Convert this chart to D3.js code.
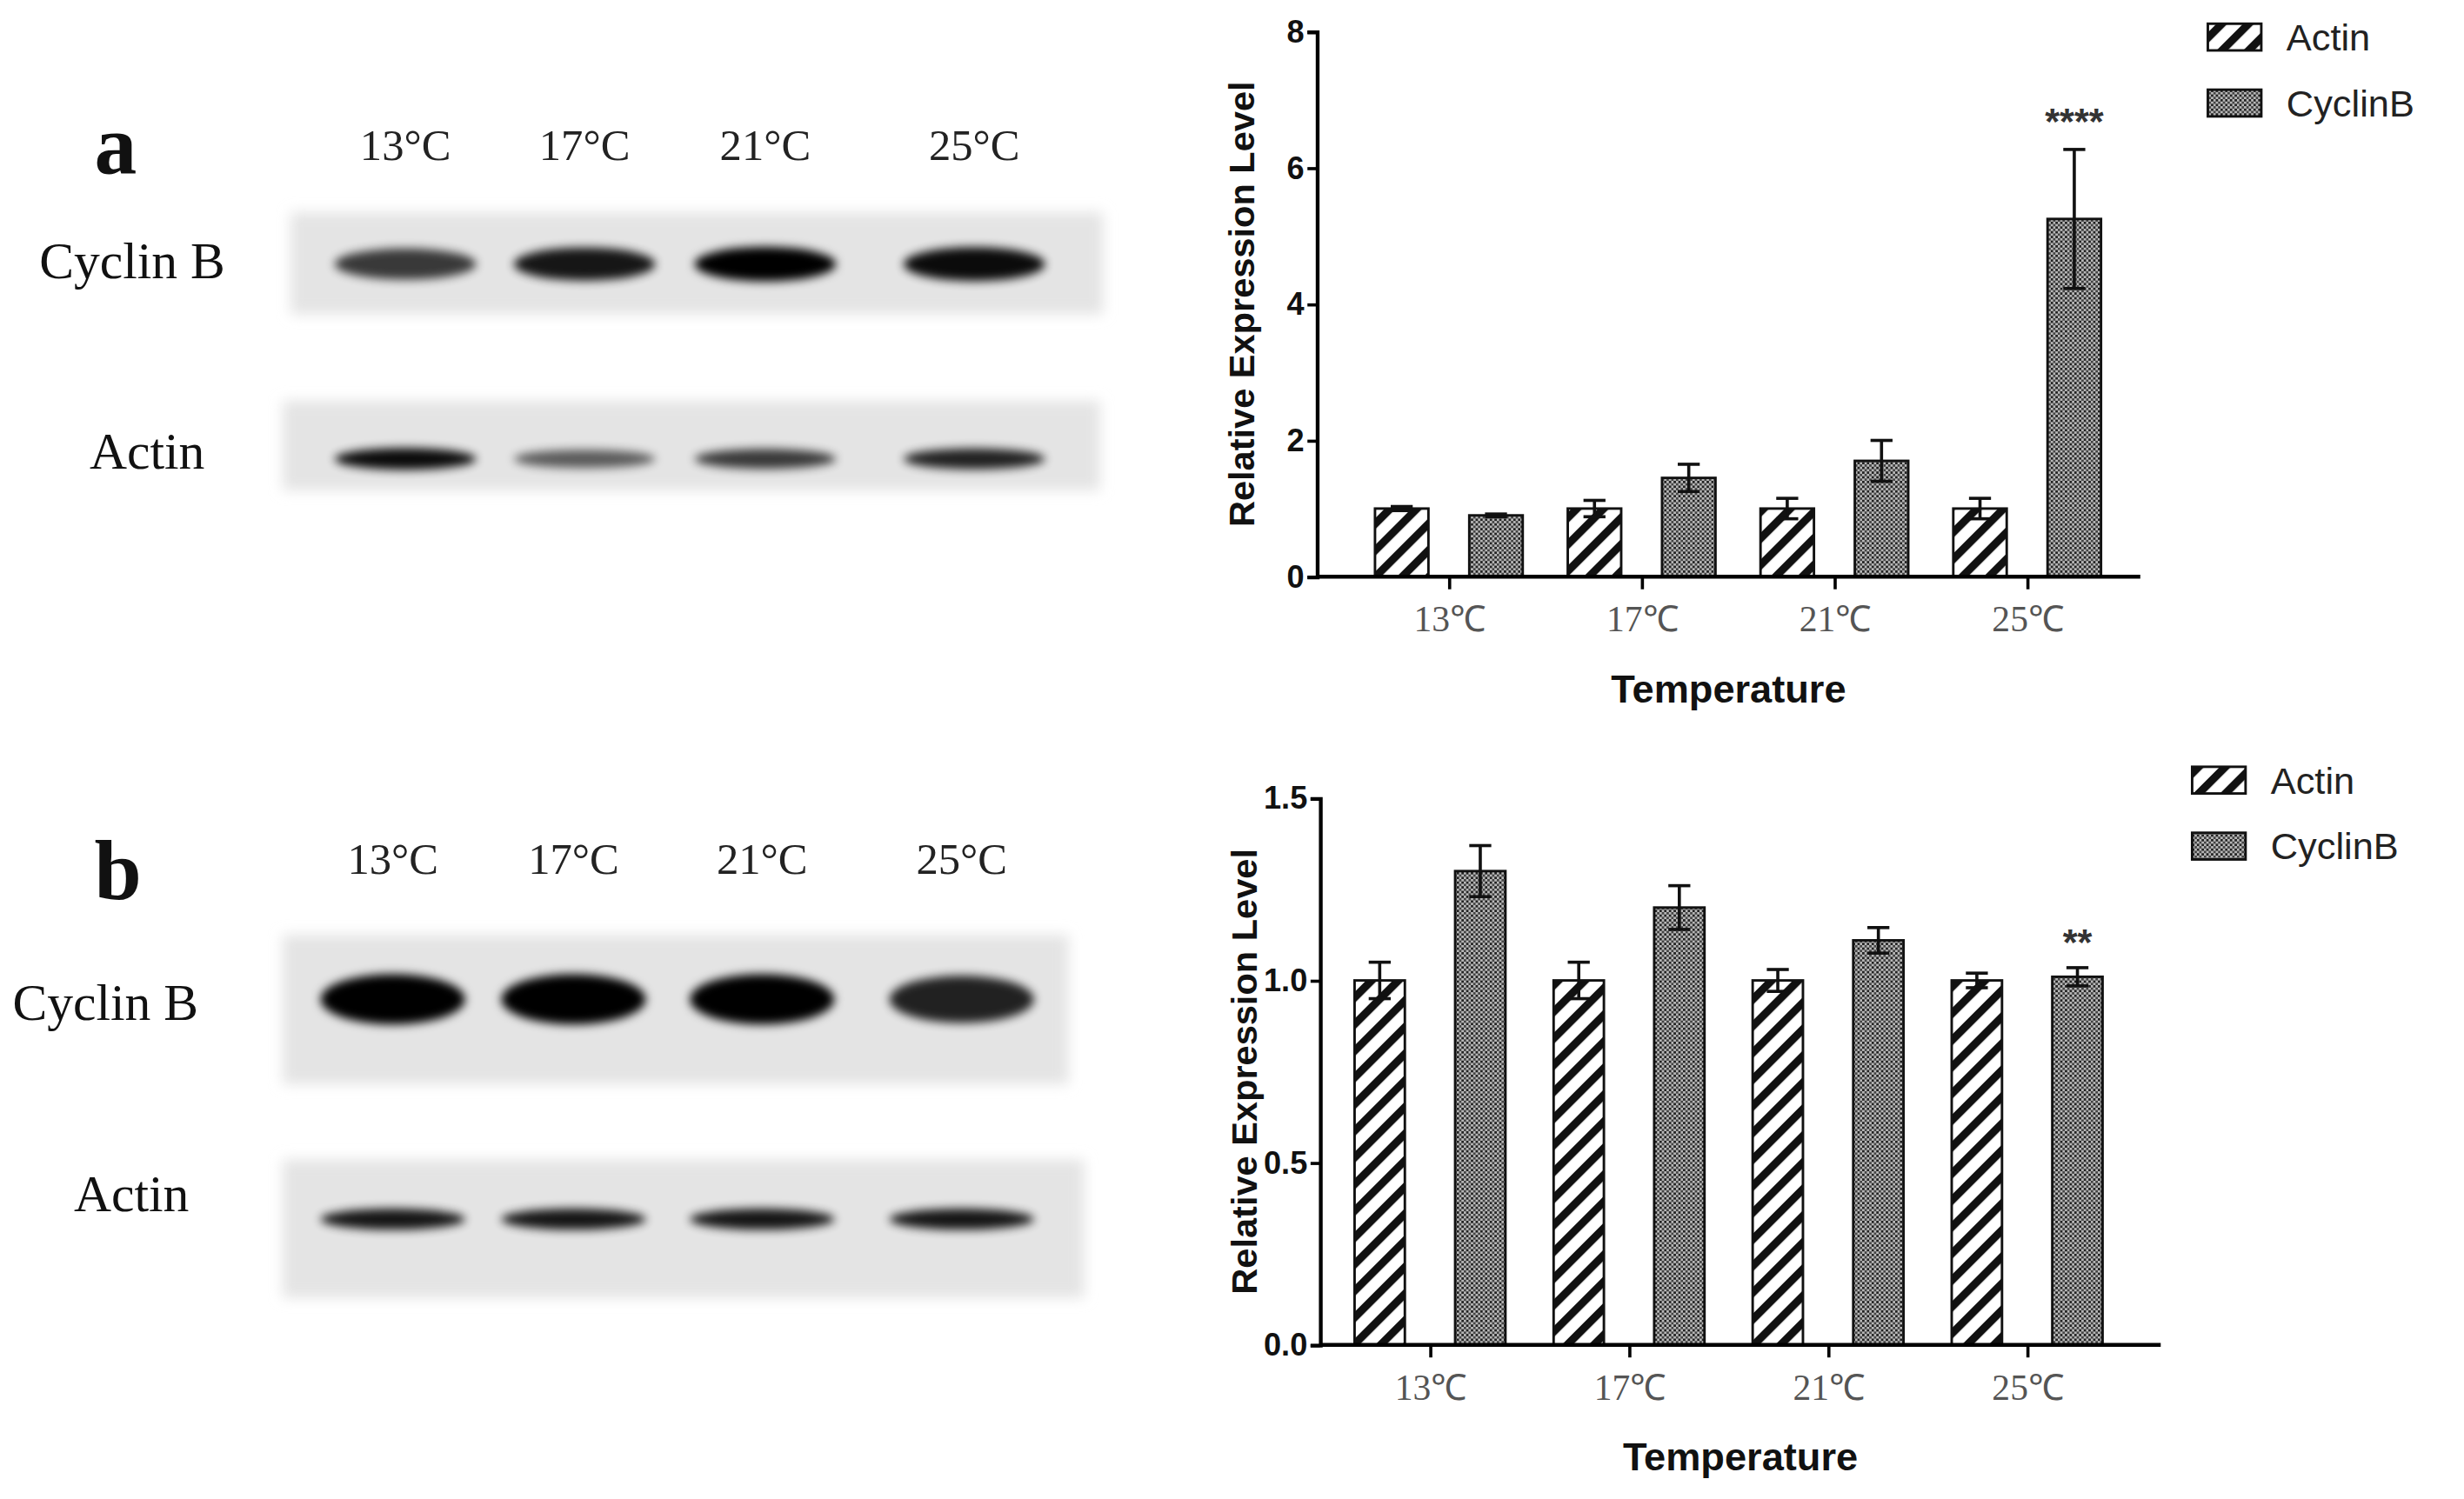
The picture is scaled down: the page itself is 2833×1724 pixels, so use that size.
<!DOCTYPE html>
<html><head><meta charset="utf-8">
<script src="https://cdn.jsdelivr.net/npm/d3@7"></script>
<style>body{margin:0;background:#fff}</style>
</head><body><div id="fig"></div>
<script>
// data
let temps = ['13℃', '17℃', '21℃', '25℃'];
let series = ['Actin', 'CyclinB'];
let aActin = [1, 1, 1, 1];
let aActinErr = [0.03, 0.12, 0.15, 0.15];
let aCyclin = [0.9, 1.45, 1.7, 5.25];
let aCyclinErr = [0.02, 0.2, 0.3, 1.02];
let aTicks = [0, 2, 4, 6, 8];
let bActin = [1, 1, 1, 1];
let bActinErr = [0.05, 0.05, 0.03, 0.02];
let bCyclin = [1.3, 1.2, 1.11, 1.01];
let bCyclinErr = [0.07, 0.06, 0.035, 0.025];
let bTicks = [0, 0.5, 1.0, 1.5];
let blotLabels = ['13°C', '17°C', '21°C', '25°C'];
// band darkness (0..1), read from blots
let aCycBand = [0.75, 0.9, 1.0, 0.95];
let aActBand = [0.95, 0.6, 0.75, 0.85];
let bCycBand = [1.0, 1.0, 1.0, 0.85];
let bActBand = [0.9, 0.9, 0.9, 0.9];

let svg = d3.select('#fig').append('svg')
  .attr('width', 2833).attr('height', 1724)
  .attr('viewBox', '0 0 1568 954');

let defs = svg.append('defs');
let hatch = defs.append('pattern').attr('id', 'hatch')
  .attr('patternUnits', 'userSpaceOnUse').attr('width', 12).attr('height', 12)
  .attr('patternTransform', 'rotate(45)');
hatch.append('rect').attr('width', 12).attr('height', 12).attr('fill', '#fff');
hatch.append('rect').attr('width', 5).attr('height', 12).attr('fill', '#111');
let dots = defs.append('pattern').attr('id', 'dots')
  .attr('patternUnits', 'userSpaceOnUse').attr('width', 3).attr('height', 3);
dots.append('rect').attr('width', 3).attr('height', 3).attr('fill', '#b8b8b8');
dots.append('rect').attr('width', 1.5).attr('height', 1.5).attr('fill', '#222');
dots.append('rect').attr('x', 1.5).attr('y', 1.5).attr('width', 1.5).attr('height', 1.5).attr('fill', '#444');
defs.append('filter').attr('id', 'blur').attr('x', '-30%').attr('y', '-100%').attr('width', '160%').attr('height', '300%')
  .append('feGaussianBlur').attr('stdDeviation', 3);
defs.append('filter').attr('id', 'blur2').attr('x', '-10%').attr('y', '-30%').attr('width', '120%').attr('height', '160%')
  .append('feGaussianBlur').attr('stdDeviation', 4);

function barChart(o) {
  let g = svg.append('g');
  let y = d3.scaleLinear().domain([0, o.max]).range([o.y0, o.y1]);
  let x = d3.scalePoint().domain(temps).range(o.xr);
  let pat = { Actin: 'url(#hatch)', CyclinB: 'url(#dots)' };
  let vals = { Actin: [o.act, o.actE], CyclinB: [o.cyc, o.cycE] };
  series.forEach((s, si) => {
    let [v, e] = vals[s];
    temps.forEach((t, i) => {
      let cx = x(t) + (si === 0 ? -o.off : o.off);
      g.append('rect').attr('x', cx - o.bw / 2).attr('y', y(v[i]))
        .attr('width', o.bw).attr('height', y(0) - y(v[i]))
        .attr('fill', pat[s]).attr('stroke', '#111').attr('stroke-width', 1.6);
      g.append('line').attr('x1', cx).attr('x2', cx).attr('y1', y(v[i] - e[i])).attr('y2', y(v[i] + e[i]))
        .attr('stroke', '#111').attr('stroke-width', 2);
      [v[i] - e[i], v[i] + e[i]].forEach(d => g.append('line')
        .attr('x1', cx - 7).attr('x2', cx + 7).attr('y1', y(d)).attr('y2', y(d))
        .attr('stroke', '#111').attr('stroke-width', 2));
    });
  });
  let yAxis = g.append('g').attr('transform', `translate(${o.ax},0)`)
    .call(d3.axisLeft(y).tickValues(o.ticks).tickFormat(o.fmt).tickSize(6));
  yAxis.select('.domain').attr('stroke-width', 2.4);
  yAxis.selectAll('.tick line').attr('stroke-width', 2);
  yAxis.selectAll('text').attr('font-family', 'Liberation Sans, Arial').attr('font-weight', 'bold')
    .attr('font-size', 20).attr('fill', '#111').attr('x', -8);
  let xAxis = g.append('g').attr('transform', `translate(0,${o.y0})`)
    .call(d3.axisBottom(x).tickSize(8).tickSizeOuter(0));
  xAxis.select('.domain').attr('d', `M${o.ax},0H${o.xend}`).attr('stroke-width', 2.6);
  xAxis.selectAll('.tick line').attr('stroke-width', 2);
  xAxis.selectAll('text').attr('font-family', 'Liberation Serif, serif').attr('font-size', 23)
    .attr('fill', '#555').attr('dy', 24);
  g.append('text').attr('transform', `translate(${o.ax - 40},${(o.y0 + o.y1) / 2}) rotate(-90)`)
    .attr('text-anchor', 'middle').attr('font-family', 'Liberation Sans, Arial').attr('font-weight', 'bold')
    .attr('font-size', 23).attr('fill', '#111').text('Relative Expression Level');
  g.append('text').attr('x', (o.ax + o.xend) / 2).attr('y', o.y0 + 80).attr('text-anchor', 'middle')
    .attr('font-family', 'Liberation Sans, Arial').attr('font-weight', 'bold').attr('font-size', 25)
    .attr('fill', '#111').text('Temperature');
  let last = temps[3];
  g.append('text').attr('x', x(last) + o.off).attr('y', y(o.cyc[3] + o.cycE[3]) - o.starGap)
    .attr('text-anchor', 'middle').attr('font-family', 'Liberation Sans, Arial').attr('font-weight', 'bold')
    .attr('font-size', 24).attr('fill', '#333').text(o.star);
  series.forEach((s, si) => {
    let ly = o.ly + si * 42;
    g.append('rect').attr('x', o.lx).attr('y', ly).attr('width', 34).attr('height', 17)
      .attr('fill', pat[s]).attr('stroke', '#111').attr('stroke-width', 1.6);
    g.append('text').attr('x', o.lx + 50).attr('y', ly + 17).attr('font-family', 'Liberation Sans, Arial')
      .attr('font-size', 24).attr('fill', '#222').text(s);
  });
}

barChart({ max: 8, y0: 367, y1: 20, ax: 838, xend: 1362, xr: [922, 1290], off: 30, bw: 34,
  act: aActin, actE: aActinErr, cyc: aCyclin, cycE: aCyclinErr, ticks: aTicks, fmt: d3.format('d'),
  star: '****', starGap: 10, lx: 1405, ly: 15 });
barChart({ max: 1.5, y0: 856, y1: 508, ax: 840, xend: 1375, xr: [910, 1290], off: 32, bw: 32,
  act: bActin, actE: bActinErr, cyc: bCyclin, cycE: bCyclinErr, ticks: bTicks, fmt: d3.format('.1f'),
  star: '**', starGap: 8, lx: 1395, ly: 488 });

function blot(o) {
  let g = svg.append('g');
  g.append('text').attr('x', o.lx).attr('y', o.ly).attr('font-family', 'Liberation Serif, serif')
    .attr('font-weight', 'bold').attr('font-size', 54).attr('fill', '#111').text(o.letter);
  blotLabels.forEach((t, i) => g.append('text').attr('x', o.cx[i]).attr('y', o.ty)
    .attr('text-anchor', 'middle').attr('font-family', 'Liberation Serif, serif')
    .attr('font-size', 28).attr('fill', '#222').text(t));
  o.rows.forEach(r => {
    g.append('rect').attr('x', r.x0).attr('y', r.y0).attr('width', r.x1 - r.x0).attr('height', r.y1 - r.y0)
      .attr('fill', '#e4e4e4').attr('filter', 'url(#blur2)');
    g.append('text').attr('x', r.tx).attr('y', r.ty).attr('font-family', 'Liberation Serif, serif')
      .attr('font-size', 33).attr('fill', '#111').text(r.name);
    r.band.forEach((b, i) => g.append('ellipse').attr('cx', o.cx[i]).attr('cy', r.by)
      .attr('rx', r.rx).attr('ry', r.ry * (0.6 + 0.4 * b))
      .attr('fill', '#000').attr('opacity', b)
      .attr('filter', 'url(#blur)'));
  });
}

blot({ letter: 'a', lx: 60, ly: 110, ty: 102, cx: [258, 372, 487, 620],
  rows: [
    { name: 'Cyclin B', tx: 25, ty: 177, x0: 185, x1: 702, y0: 135, y1: 200, by: 168, rx: 45, ry: 11, band: aCycBand },
    { name: 'Actin', tx: 57, ty: 298, x0: 180, x1: 700, y0: 255, y1: 312, by: 292, rx: 45, ry: 7, band: aActBand }
  ] });
blot({ letter: 'b', lx: 60, ly: 572, ty: 556, cx: [250, 365, 485, 612],
  rows: [
    { name: 'Cyclin B', tx: 8, ty: 649, x0: 180, x1: 680, y0: 595, y1: 690, by: 636, rx: 46, ry: 16, band: bCycBand },
    { name: 'Actin', tx: 47, ty: 771, x0: 180, x1: 690, y0: 738, y1: 826, by: 776, rx: 46, ry: 7, band: bActBand }
  ] });
</script></body></html>
